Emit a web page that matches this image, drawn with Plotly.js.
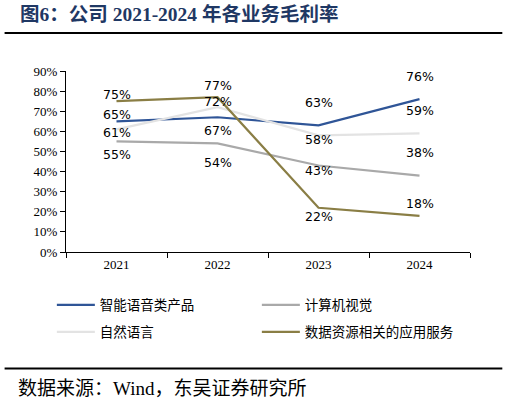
<!DOCTYPE html>
<html>
<head>
<meta charset="utf-8">
<script src="https://cdn.plot.ly/plotly-3.0.1.min.js"></script>
<style>
  body { margin: 0; background: #fff; }
  #chart { width: 510px; height: 402px; }
</style>
</head>
<body>
<div id="chart"></div>
<script>
// categories and series (gross margin, %)
const years = ['2021', '2022', '2023', '2024']
const voiceProducts = [65, 67, 63, 76]     // 智能语音类产品
const computerVision = [55, 54, 43, 38]    // 计算机视觉
const naturalLanguage = [61, 72, 58, 59]   // 自然语言
const dataServices = [75, 77, 22, 18]      // 数据资源相关的应用服务

const yTicks = [0, 10, 20, 30, 40, 50, 60, 70, 80, 90]

// label offsets in px (positive = up)
const voiceShift = [7, -13, 23, 23]
const visionShift = [-13, -19, -5, 23]
const languageShift = [-3, 6, -4, 23]
const dataShift = [7, 12, -9, 12]

const series = [
    { name: '智能语音类产品', y: voiceProducts, color: '#2F5597', shift: voiceShift, legend: 'legend' },
    { name: '计算机视觉', y: computerVision, color: '#A9A9A9', shift: visionShift, legend: 'legend' },
    { name: '自然语言', y: naturalLanguage, color: '#E3E3E3', shift: languageShift, legend: 'legend2' },
    { name: '数据资源相关的应用服务', y: dataServices, color: '#8A7E45', shift: dataShift, legend: 'legend2' },
]

let traces = series.map((s) => ({
    x: years,
    y: s.y,
    name: s.name,
    legend: s.legend,
    type: 'scatter',
    mode: 'lines',
    line: { color: s.color, width: 2.2 },
    hoverinfo: 'skip',
}))

let annotations = []
series.forEach((s) => {
    s.y.forEach((v, i) => {
        annotations.push({
            x: i, y: v, xref: 'x', yref: 'y',
            text: v + '%', showarrow: false,
            yshift: s.shift[i],
            font: { family: 'DejaVu Sans', size: 12.5, color: '#000' },
        })
    })
})

// title, source
annotations.push({
    xref: 'paper', yref: 'paper', x: -0.12, y: 1.0, xanchor: 'left', yanchor: 'bottom',
    yshift: 44,
    text: '<b>图6：公司 2021-2024 年各业务毛利率</b>', showarrow: false,
    font: { family: 'Liberation Serif, Noto Sans CJK SC, serif', size: 19.5, color: '#1F3864' },
})
annotations.push({
    xref: 'paper', yref: 'paper', x: -0.125, y: 0, xanchor: 'left', yanchor: 'top',
    yshift: -124,
    text: '数据来源：Wind，东吴证券研究所', showarrow: false,
    font: { family: 'Liberation Serif, Noto Sans CJK SC, serif', size: 19, color: '#000' },
})

const legendStyle = {
    orientation: 'h',
    x: -0.035, xanchor: 'left', yanchor: 'middle',
    entrywidth: 152,
    itemwidth: 38,
    font: { family: 'Noto Sans CJK SC, sans-serif', size: 13.5, color: '#000' },
    bgcolor: 'rgba(0,0,0,0)',
}

let layout = {
    width: 510,
    height: 402,
    margin: { l: 66, r: 40, t: 71, b: 150 },
    paper_bgcolor: '#fff',
    plot_bgcolor: '#fff',
    showlegend: true,
    legend: Object.assign({}, legendStyle, { y: -0.293 }),
    legend2: Object.assign({}, legendStyle, { y: -0.442 }),
    xaxis: {
        type: 'category',
        range: [-0.5, 3.5],
        showgrid: false,
        zeroline: false,
        showline: true,
        linecolor: '#000',
        linewidth: 1,
        ticks: 'outside',
        ticklen: 5,
        tickcolor: '#000',
        tickson: 'boundaries',
        tickfont: { family: 'Liberation Serif, serif', size: 13, color: '#000' },
        fixedrange: true,
    },
    yaxis: {
        range: [0, 90],
        tickvals: yTicks,
        ticktext: yTicks.map((t) => t + '%'),
        showgrid: false,
        zeroline: false,
        showline: true,
        linecolor: '#000',
        linewidth: 1,
        ticks: 'outside',
        ticklen: 5,
        tickcolor: '#000',
        tickfont: { family: 'Liberation Serif, serif', size: 13, color: '#000' },
        fixedrange: true,
    },
    shapes: [
        { type: 'line', xref: 'paper', yref: 'paper', x0: -0.152, x1: 1.08, y0: 1.21, y1: 1.21,
          line: { color: '#000', width: 2 } },
        { type: 'line', xref: 'paper', yref: 'paper', x0: -0.152, x1: 1.08, y0: -0.643, y1: -0.643,
          line: { color: '#000', width: 2 } },
    ],
    annotations: annotations,
}

Plotly.newPlot('chart', traces, layout, { displayModeBar: false, staticPlot: true })
</script>
</body>
</html>
